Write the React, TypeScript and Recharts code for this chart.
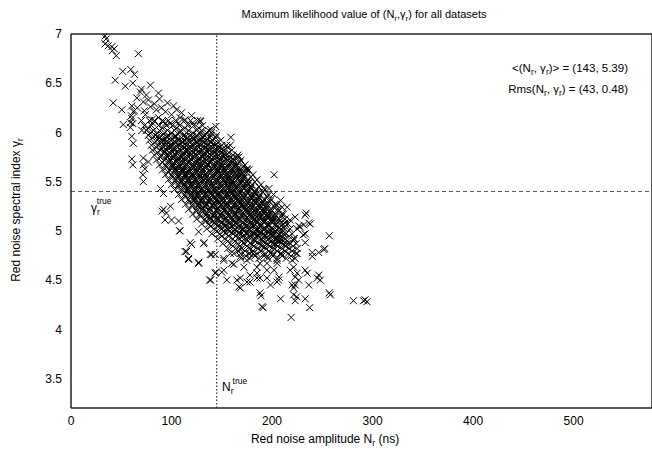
import React from "react";
import { ScatterChart, Scatter, XAxis, YAxis, ReferenceLine } from "recharts";

const FONT = "'Liberation Sans', Arial, Helvetica, sans-serif";

const xTicks = [0, 100, 200, 300, 400, 500];
const yTicks = [3.5, 4, 4.5, 5, 5.5, 6, 6.5, 7];

const nTrue = 145;
const gammaTrue = 5.4;

// upper-left tail of the cloud
const tailPoints: [number, number][] = [
  [34, 6.98], [35, 6.95], [34, 6.9], [37, 6.88], [40.5, 6.87], [43, 6.85], [41, 6.83], [45, 6.78], [67, 6.8],
  [51.5, 6.62], [59.5, 6.64], [63, 6.59], [44, 6.53], [54, 6.47], [61.5, 6.5], [79, 6.48], [69, 6.41],
  [75, 6.38], [87, 6.4], [65.5, 6.35], [42, 6.3], [50.5, 6.23], [72, 6.31], [79, 6.26], [85, 6.23],
  [94, 6.21], [102, 6.27], [105, 6.23], [128.5, 6.12], [62, 6.21], [60.5, 6.14], [61.5, 6.09], [59, 6.05],
  [74, 6.18], [80.5, 6.13], [87, 6.15], [92, 6.11], [98.5, 6.09], [108.5, 6.15], [113.5, 6.13], [117, 6.08],
  [63, 6.22], [60.5, 6.27], [60, 6.17], [59, 6.1], [52, 6.08], [77, 6.33], [83, 6.29], [90, 6.25], [96, 6.3],
  [70, 6.44], [66, 6.25], [73, 6.22], [110, 6.2], [120, 6.17], [88, 6.34], [100, 6.18],
];

// scattered points around the left side
const leftPoints: [number, number][] = [
  [60.5, 5.96], [62, 5.89], [60.5, 5.73], [61.5, 5.67], [72, 5.74], [71.5, 5.57], [73.5, 5.63], [72, 5.5],
  [70.5, 6.02], [72, 5.67], [77, 5.7], [89, 5.43], [92, 5.38], [95, 5.18], [90.5, 5.2], [107, 5.1],
  [99, 5.25], [93.5, 5.11], [100, 5.11], [92, 5.22], [108, 5.0], [108.5, 5.0], [118.5, 4.88], [113.5, 4.79],
  [117, 4.71], [127, 4.67], [138.5, 4.76], [143.5, 4.76], [143.5, 4.57], [150, 4.58], [138, 4.5], [155, 4.5],
  [165, 4.5], [162, 4.66], [152, 4.72], [127, 4.99], [127, 4.68], [117, 4.72], [115, 4.79], [120, 4.86],
  [132, 4.87], [132.5, 4.88], [140, 4.76], [139, 4.5], [144, 4.58], [152, 4.6], [160, 4.67],
];

// scattered points along the right and lower edge
const rightPoints: [number, number][] = [
  [144, 6.06], [139, 6.03], [159, 5.95], [129, 6.11], [140, 6.0], [158.5, 5.87], [167, 5.75], [175, 5.62],
  [171.7, 5.6], [175, 5.63], [176.7, 5.48], [202, 5.57], [191.7, 5.43], [197, 5.43], [201.5, 5.37],
  [185, 5.38], [181.5, 5.3], [195, 5.29], [205, 5.26], [210, 5.24], [211.5, 5.17], [223, 5.14], [234, 5.18],
  [236.5, 5.08], [226.5, 5.05], [231.5, 5.06], [213, 5.08], [201.5, 5.12], [188, 5.19], [208.5, 5.31],
  [215, 5.24], [218, 5.11], [225, 5.02], [211.5, 5.03], [233, 5.16], [238, 5.07], [228, 5.04], [231, 4.96],
  [257, 4.95], [233, 4.97], [233, 4.88], [221.5, 4.92], [215, 4.87], [208.5, 4.92], [201.5, 4.86],
  [221.5, 4.9], [225, 4.77], [251.5, 4.81], [246.5, 4.78], [240, 4.74], [252.5, 4.82], [240, 4.78],
  [220, 4.7], [221.5, 4.63], [225, 4.57], [205, 4.7], [202, 4.6], [207, 4.53], [195, 4.52], [185, 4.52],
  [178, 4.55], [175, 4.48], [198.5, 4.45], [205, 4.48], [235, 4.57], [233, 4.6], [246.5, 4.55], [248, 4.5],
  [245, 4.52], [236.5, 4.45], [223, 4.45], [220, 4.45], [221.5, 4.42], [226.5, 4.5], [258, 4.35],
  [257, 4.37], [281, 4.29], [291, 4.29], [292.5, 4.3], [294.5, 4.28], [233, 4.31], [224.5, 4.33],
  [223, 4.29], [208.5, 4.31], [221.5, 4.35], [189, 4.34], [188, 4.37], [191, 4.22], [190, 4.23],
  [219, 4.12], [237.5, 4.22], [206.5, 4.5], [188, 4.52], [178, 4.48], [168.5, 4.42], [218, 4.6],
  [223, 4.53], [205, 4.67], [195, 4.6], [185, 4.57], [188, 4.67], [175, 4.7], [181.5, 4.77], [195, 4.74],
  [168.5, 4.81], [167, 4.43], [168.5, 4.52], [192, 5.11], [185, 5.0], [198.5, 4.97], [205, 4.9], [192, 4.84],
  [178, 4.77], [168.5, 4.74], [158.5, 4.77], [152, 4.7], [172, 4.63], [185, 4.63], [195, 4.67], [198.5, 4.77],
  [208.5, 4.77], [211.5, 4.97],
];

// dense core, read row by row: [gamma, N values]
const coreRows: [number, number[]][] = [
  [6.12, [70, 78, 83, 91, 97, 104, 113, 119, 126]],
  [6.095, [81, 94, 107, 121]],
  [6.07, [73, 80, 87, 95, 101, 108, 116, 122, 131]],
  [6.045, [77, 91, 105, 113, 127]],
  [6.02, [75, 82, 88, 96, 103, 109, 117, 125, 130, 137]],
  [5.995, [79, 86, 93, 100, 108, 115, 121, 129, 135]],
  [5.97, [77, 84, 91, 97, 104, 112, 118, 125, 133, 139, 145]],
  [5.945, [81, 88, 96, 103, 110, 116, 124, 131, 138, 144]],
  [5.92, [78, 86, 92, 99, 107, 113, 120, 128, 134, 141, 149]],
  [5.895, [83, 90, 97, 104, 111, 118, 125, 132, 139, 146]],
  [5.87, [80, 87, 94, 100, 108, 115, 121, 129, 136, 143, 150, 155]],
  [5.845, [85, 92, 99, 106, 113, 120, 127, 134, 141, 148, 156]],
  [5.82, [81, 89, 95, 103, 109, 116, 124, 130, 138, 145, 152, 160]],
  [5.795, [86, 93, 101, 107, 115, 122, 129, 136, 143, 150, 157]],
  [5.77, [83, 90, 97, 104, 111, 119, 125, 132, 139, 147, 154, 161, 166]],
  [5.745, [89, 96, 102, 110, 117, 123, 131, 138, 145, 152, 159, 165]],
  [5.72, [85, 93, 99, 106, 114, 120, 127, 135, 141, 148, 156, 162, 169]],
  [5.695, [91, 98, 105, 112, 118, 126, 133, 139, 147, 154, 161, 168]],
  [5.67, [88, 94, 101, 109, 115, 122, 130, 136, 143, 151, 158, 165, 173]],
  [5.645, [95, 101, 108, 115, 122, 129, 135, 143, 150, 157, 164, 171]],
  [5.62, [91, 98, 104, 111, 119, 125, 132, 140, 146, 154, 161, 168, 177]],
  [5.595, [97, 104, 111, 118, 125, 132, 139, 146, 153, 161, 168, 175]],
  [5.57, [94, 100, 108, 114, 121, 128, 135, 143, 150, 157, 165, 172, 181]],
  [5.545, [101, 107, 114, 121, 128, 135, 142, 149, 157, 164, 172, 179]],
  [5.52, [97, 104, 111, 117, 124, 132, 138, 145, 153, 160, 168, 176, 185]],
  [5.495, [104, 110, 117, 124, 131, 138, 145, 153, 160, 168, 175, 183]],
  [5.47, [100, 107, 113, 121, 127, 134, 142, 149, 156, 164, 171, 180, 189]],
  [5.445, [107, 114, 120, 127, 134, 141, 149, 156, 164, 171, 179, 187]],
  [5.42, [103, 110, 117, 124, 130, 137, 145, 152, 160, 167, 175, 184, 193]],
  [5.395, [110, 117, 124, 131, 138, 144, 152, 159, 167, 175, 183, 191]],
  [5.37, [107, 113, 120, 127, 134, 141, 148, 156, 163, 171, 179, 188, 196]],
  [5.345, [114, 120, 127, 135, 142, 149, 156, 163, 171, 179, 187, 195]],
  [5.32, [110, 117, 124, 131, 139, 145, 152, 160, 167, 175, 183, 192, 199]],
  [5.295, [118, 124, 131, 138, 146, 152, 160, 167, 175, 183, 191, 198]],
  [5.27, [114, 121, 128, 135, 142, 150, 156, 164, 171, 179, 187, 195, 203]],
  [5.245, [121, 128, 134, 142, 149, 156, 164, 171, 179, 187, 195, 202]],
  [5.22, [117, 125, 131, 138, 146, 153, 160, 167, 175, 183, 191, 199, 206]],
  [5.195, [125, 131, 138, 146, 153, 161, 168, 175, 183, 191, 199, 206]],
  [5.17, [121, 128, 135, 143, 149, 157, 164, 172, 179, 187, 195, 203, 210]],
  [5.145, [129, 136, 143, 150, 157, 165, 172, 179, 187, 195, 203, 209]],
  [5.12, [125, 133, 139, 146, 154, 161, 168, 176, 183, 191, 199, 207, 213]],
  [5.095, [134, 141, 148, 155, 162, 169, 176, 184, 192, 200, 207]],
  [5.07, [130, 137, 144, 152, 158, 165, 173, 180, 188, 196, 204, 211, 216]],
  [5.045, [139, 146, 153, 160, 167, 174, 181, 189, 197, 205, 213]],
  [5.02, [135, 142, 150, 156, 163, 171, 177, 185, 193, 201, 209, 218]],
  [4.995, [145, 152, 158, 165, 172, 179, 187, 195, 203, 211]],
  [4.97, [140, 148, 154, 161, 169, 175, 183, 191, 199, 207, 214, 220]],
  [4.945, [150, 157, 164, 171, 178, 186, 193, 201, 209, 217]],
  [4.92, [146, 153, 161, 167, 174, 182, 189, 197, 205, 213, 222]],
  [4.895, [156, 163, 170, 176, 183, 191, 199, 207, 215]],
  [4.87, [151, 158, 166, 172, 179, 187, 195, 203, 211, 218, 224]],
  [4.845, [161, 168, 175, 182, 190, 198, 206, 214, 221]],
  [4.82, [156, 164, 170, 178, 186, 194, 202, 210, 217, 225]],
  [4.795, [166, 173, 181, 189, 197, 205, 213, 220]],
  [4.77, [162, 169, 177, 185, 193, 201, 209, 216, 224]],
  [4.745, [174, 183, 192, 201, 210, 219]],
  [4.72, [169, 178, 187, 196, 205, 214, 223]],
];

// darkest inner part of the core, where the crosses pile up
const innerRows: [number, number[]][] = [
  [5.958, [86, 95, 104, 114, 121, 131]],
  [5.933, [90, 98, 106, 115, 122, 130, 136]],
  [5.908, [89, 95, 103, 111, 117, 125, 131, 139]],
  [5.883, [92, 100, 106, 113, 121, 127, 134, 142]],
  [5.858, [91, 97, 105, 111, 118, 126, 132, 139, 146]],
  [5.833, [94, 102, 108, 115, 123, 129, 136, 144, 150]],
  [5.808, [93, 100, 106, 114, 120, 127, 135, 141, 148]],
  [5.783, [96, 103, 111, 117, 124, 132, 138, 145, 152]],
  [5.758, [95, 102, 108, 116, 122, 130, 136, 143, 151, 157]],
  [5.733, [98, 106, 112, 119, 127, 133, 140, 148, 154, 161]],
  [5.708, [97, 104, 110, 118, 124, 131, 139, 145, 152, 159]],
  [5.683, [101, 108, 115, 121, 128, 136, 142, 149, 157, 163]],
  [5.658, [100, 106, 113, 121, 127, 134, 142, 148, 155, 162]],
  [5.633, [104, 111, 118, 124, 131, 139, 145, 152, 160, 166]],
  [5.608, [103, 110, 116, 124, 130, 137, 145, 151, 158, 165]],
  [5.583, [107, 114, 121, 127, 134, 142, 148, 155, 163, 169]],
  [5.558, [106, 113, 119, 127, 133, 140, 148, 154, 161, 168]],
  [5.533, [110, 117, 124, 130, 137, 145, 151, 158, 166, 172]],
  [5.508, [109, 116, 122, 130, 136, 143, 151, 157, 164, 171]],
  [5.483, [113, 120, 127, 133, 140, 148, 154, 161, 169, 176]],
  [5.458, [112, 119, 125, 133, 139, 146, 154, 160, 167, 175]],
  [5.433, [116, 123, 130, 136, 143, 151, 157, 164, 172, 179]],
  [5.408, [115, 122, 128, 136, 142, 149, 157, 163, 170, 178]],
  [5.383, [120, 126, 134, 140, 147, 155, 161, 168, 176, 183]],
  [5.358, [119, 125, 132, 140, 146, 153, 161, 167, 174, 182]],
  [5.333, [123, 130, 138, 144, 151, 159, 165, 172, 180, 187]],
  [5.308, [122, 129, 136, 144, 150, 157, 165, 171, 178, 186]],
  [5.283, [127, 134, 142, 148, 155, 163, 169, 176, 184, 190]],
  [5.258, [126, 133, 140, 148, 154, 161, 169, 175, 182, 189]],
  [5.233, [131, 138, 146, 152, 159, 167, 173, 180, 188, 194]],
  [5.208, [130, 137, 144, 152, 158, 165, 173, 179, 186, 193]],
  [5.183, [135, 142, 150, 156, 163, 171, 177, 184, 192, 198]],
  [5.158, [134, 141, 148, 156, 162, 169, 177, 183, 190, 197]],
  [5.133, [139, 146, 154, 160, 167, 175, 181, 188, 196, 202]],
  [5.108, [138, 145, 152, 160, 166, 173, 181, 187, 194, 201]],
  [5.083, [143, 150, 158, 164, 171, 179, 185, 192, 200, 206]],
  [5.058, [147, 154, 162, 168, 175, 183, 189, 196, 203]],
  [5.033, [151, 158, 166, 172, 179, 187, 193, 200, 207]],
  [5.008, [156, 163, 171, 177, 184, 192, 198, 205]],
  [4.983, [160, 167, 175, 181, 188, 196, 202, 209]],
  [4.958, [165, 172, 180, 186, 193, 201, 207]],
  [4.933, [170, 177, 185, 191, 198, 205]],
  [4.908, [175, 182, 190, 196, 203, 210]],
  [4.858, [180, 189, 196, 204, 212]],
];

const points = [
  ...tailPoints,
  ...leftPoints,
  ...rightPoints,
  ...[...coreRows, ...innerRows].flatMap(([g, ns]) => ns.map((n) => [n, g] as [number, number])),
].map(([n, g]) => ({ n, g }));

const Cross = (props: any) => {
  const { cx, cy } = props;
  if (cx == null || cy == null) return null;
  const s = 3.5;
  return (
    <path
      d={`M${cx - s},${cy - s}L${cx + s},${cy + s}M${cx + s},${cy - s}L${cx - s},${cy + s}`}
      stroke="#000"
      strokeWidth={1}
      fill="none"
    />
  );
};

const axisStroke = { stroke: "#222", strokeWidth: 1.5 };
const tickStyle = { fill: "#000", fontSize: 12, fontFamily: FONT };

// text pieces: [text, isSubscript]
const renderPieces = (pieces: [string, boolean][], subSize: number) => {
  let down = false;
  return pieces.map(([t, sub], i) => {
    const dy = sub && !down ? 3 : !sub && down ? -3 : 0;
    down = sub;
    return (
      <tspan key={i} dy={dy} fontSize={sub ? subSize : undefined}>
        {t}
      </tspan>
    );
  });
};

export default function App() {
  return (
    <div style={{ position: "absolute", left: 0, top: 0, width: 652, height: 449, background: "#fff" }}>
      <ScatterChart width={652} height={449} margin={{ top: 34, right: 0, bottom: 0, left: 0 }}>
        <XAxis
          xAxisId="x"
          type="number"
          dataKey="n"
          domain={[0, 578]}
          ticks={xTicks}
          allowDataOverflow
          height={41}
          tickLine={false}
          tickSize={0}
          tickMargin={8}
          axisLine={axisStroke}
          tick={tickStyle}
        />
        <XAxis
          xAxisId="xb"
          type="number"
          domain={[0, 578]}
          ticks={xTicks}
          allowDataOverflow
          mirror
          tick={false}
          axisLine={false}
          tickSize={5}
          tickLine={axisStroke}
        />
        <XAxis
          xAxisId="xt"
          orientation="top"
          type="number"
          domain={[0, 578]}
          ticks={xTicks}
          allowDataOverflow
          mirror
          tick={false}
          axisLine={axisStroke}
          tickSize={5}
          tickLine={axisStroke}
        />
        <YAxis
          yAxisId="y"
          type="number"
          dataKey="g"
          domain={[3.2, 7]}
          ticks={yTicks}
          allowDataOverflow
          width={71}
          tickLine={false}
          tickSize={0}
          tickMargin={9}
          axisLine={axisStroke}
          tick={tickStyle}
        />
        <YAxis
          yAxisId="yl"
          type="number"
          domain={[3.2, 7]}
          ticks={yTicks}
          allowDataOverflow
          mirror
          tick={false}
          axisLine={false}
          tickSize={5}
          tickLine={axisStroke}
        />
        <YAxis
          yAxisId="yr"
          orientation="right"
          type="number"
          domain={[3.2, 7]}
          ticks={yTicks}
          allowDataOverflow
          mirror
          tick={false}
          axisLine={axisStroke}
          tickSize={5}
          tickLine={axisStroke}
        />
        <ReferenceLine xAxisId="x" yAxisId="y" y={gammaTrue} stroke="#555" strokeDasharray="4 3" />
        <ReferenceLine xAxisId="x" yAxisId="y" x={nTrue} stroke="#000" strokeDasharray="1.5 2" />
        <Scatter xAxisId="x" yAxisId="y" data={points} shape={Cross} isAnimationActive={false} />
      </ScatterChart>
      <svg
        width={652}
        height={449}
        style={{ position: "absolute", left: 0, top: 0, pointerEvents: "none" }}
        fontFamily={FONT}
        fill="#000"
      >
        <text x={364} y={18} fontSize={11} textAnchor="middle">
          {renderPieces(
            [["Maximum likelihood value of (N", false], ["r", true], [",γ", false], ["r", true], [") for all datasets", false]],
            8
          )}
        </text>
        <text x={628} y={72} fontSize={11.5} textAnchor="end">
          {renderPieces(
            [["<(N", false], ["r", true], [", γ", false], ["r", true], [")> = (143, 5.39)", false]],
            8.5
          )}
        </text>
        <text x={628} y={93} fontSize={11.5} textAnchor="end">
          {renderPieces(
            [["Rms(N", false], ["r", true], [", γ", false], ["r", true], [") = (43, 0.48)", false]],
            8.5
          )}
        </text>
        <text x={325} y={443} fontSize={12} textAnchor="middle">
          {renderPieces([["Red noise amplitude N", false], ["r", true], [" (ns)", false]], 8.5)}
        </text>
        <text x={20} y={210} fontSize={12} textAnchor="middle" transform="rotate(-90 20 210)">
          {renderPieces([["Red noise spectral index γ", false], ["r", true]], 8.5)}
        </text>
        <text x={91} y={212} fontSize={12}>
          γ<tspan fontSize={8.5} dy={3}>r</tspan>
          <tspan fontSize={8.5} dx={-3} dy={-11}>true</tspan>
        </text>
        <text x={222} y={391} fontSize={12}>
          N<tspan fontSize={8.5} dy={3}>r</tspan>
          <tspan fontSize={8.5} dx={-1} dy={-10}>true</tspan>
        </text>
      </svg>
    </div>
  );
}
